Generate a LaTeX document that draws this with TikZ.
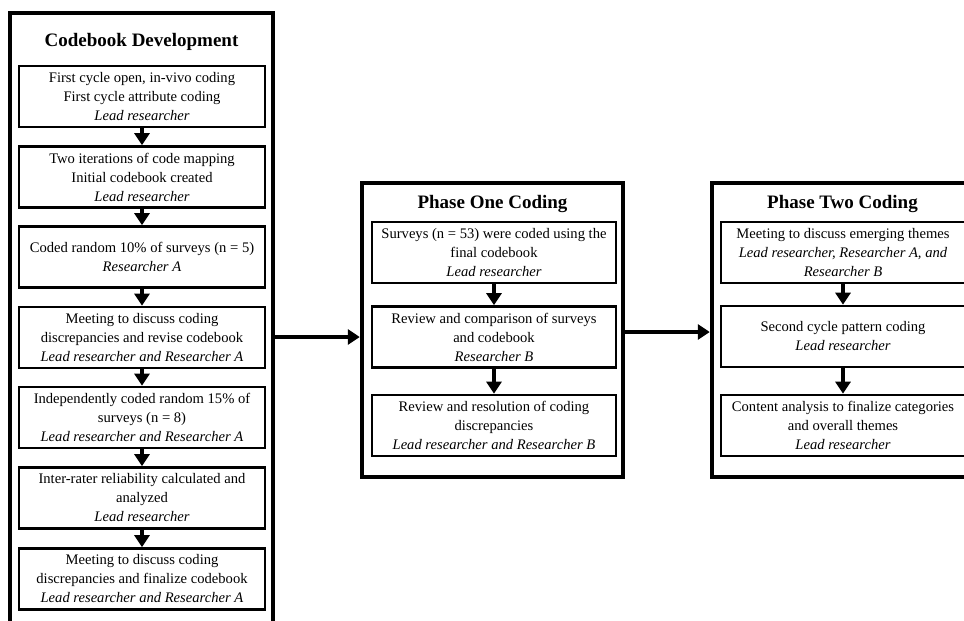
\documentclass[tikz,border=0pt]{standalone}
\usepackage{fontspec}
\setmainfont{Liberation Serif}
\usetikzlibrary{arrows.meta}

\tikzset{
  stage/.style={draw, line width=4.5pt, inner sep=0pt},
  stagetitle/.style={font=\fontsize{19}{22}\selectfont\bfseries},
  task/.style={draw, line width=2.6pt, fill=white, align=center, inner sep=0pt,
    minimum width=246pt, minimum height=61pt, font=\fontsize{14.6}{19}\selectfont},
  flow/.style={line width=4.8pt, -{Triangle[length=12pt,width=15pt]}},
}

\begin{document}
\begin{tikzpicture}[x=1pt,y=-1pt]
			%%%%% START %%%%%
			\clip (0,0) rectangle (964,621);
			
			% the three stages
			\node[stage, minimum width=263pt, minimum height=637pt] (dev) at (141.5, 331.5) {};
			\node[stage, minimum width=261pt, minimum height=294pt] (one) at (492.5, 330) {};
			\node[stage, minimum width=261pt, minimum height=294pt] (two) at (842.5, 330) {};
			
			\node[stagetitle] at (141.5, 42) {Codebook Development};
			\node[stagetitle] at (492.5, 204) {Phase One Coding};
			\node[stagetitle] at (842.5, 204) {Phase Two Coding};
			
			% codebook development
			\node[task] (d1) at (142, 96.5) {First cycle open, in-vivo coding\\First cycle attribute coding\\\textit{Lead researcher}};
			\node[task] (d2) at (142, 177) {Two iterations of code mapping\\Initial codebook created\\\textit{Lead researcher}};
			\node[task] (d3) at (142, 257) {Coded random 10\% of surveys (n = 5)\\\textit{Researcher A}};
			\node[task] (d4) at (142, 337.5) {Meeting to discuss coding\\discrepancies and revise codebook\\\textit{Lead researcher and Researcher A}};
			\node[task] (d5) at (142, 417.5) {Independently coded random 15\% of\\surveys (n = 8)\\\textit{Lead researcher and Researcher A}};
			\node[task] (d6) at (142, 498) {Inter-rater reliability calculated and\\analyzed\\\textit{Lead researcher}};
			\node[task] (d7) at (142, 579) {Meeting to discuss coding\\discrepancies and finalize codebook\\\textit{Lead researcher and Researcher A}};
			
			% phase one
			\node[task, minimum width=244pt] (p1) at (494, 252.5) {Surveys (n = 53) were coded using the\\final codebook\\\textit{Lead researcher}};
			\node[task, minimum width=244pt] (p2) at (494, 337) {Review and comparison of surveys\\and codebook\\\textit{Researcher B}};
			\node[task, minimum width=244pt] (p3) at (494, 425.5) {Review and resolution of coding\\discrepancies\\\textit{Lead researcher and Researcher B}};
			
			% phase two
			\node[task, minimum width=244pt] (q1) at (843, 252.5) {Meeting to discuss emerging themes\\\textit{Lead researcher, Researcher A, and}\\\textit{Researcher B}};
			\node[task, minimum width=244pt] (q2) at (843, 336.5) {Second cycle pattern coding\\\textit{Lead researcher}};
			\node[task, minimum width=244pt] (q3) at (843, 425.5) {Content analysis to finalize categories\\and overall themes\\\textit{Lead researcher}};
			
			% arrows
			\foreach \a/\b in {d1/d2,d2/d3,d3/d4,d4/d5,d5/d6,d6/d7,p1/p2,p2/p3,q1/q2,q2/q3}
				\draw[flow] (\a.south) -- (\b.north);
			
			\coordinate (linkA) at (0, 337);
			\coordinate (linkB) at (0, 332);
			\draw[flow] (dev.east |- linkA) -- (one.west |- linkA);
			\draw[flow] (one.east |- linkB) -- (two.west |- linkB);
			
			%%%%% END %%%%%
\end{tikzpicture}
\end{document}
